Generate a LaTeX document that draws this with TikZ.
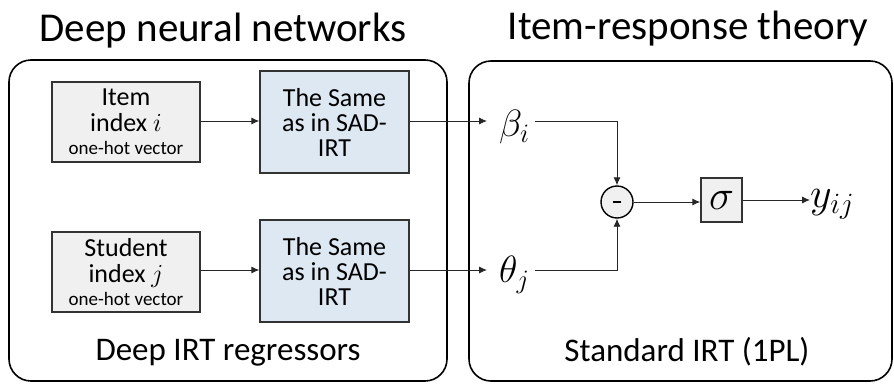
\RequirePackage{fix-cm}
\documentclass[tikz,border=0pt]{standalone}
\usepackage{fontspec}
\setmainfont{Carlito}
\usetikzlibrary{arrows.meta}
\definecolor{boxgray}{HTML}{F0F0F0}
\definecolor{boxblue}{HTML}{DDE8F3}
\tikzset{
  panel/.style={draw=black, line width=1.6pt, rounded corners=22pt},
  inbox/.style={draw=black!80, line width=1.4pt, fill=boxgray, align=center, inner sep=0pt,
    font=\fontsize{26}{26}\selectfont},
  netbox/.style={draw=black!80, line width=1.4pt, fill=boxblue, align=center, inner sep=0pt,
    font=\fontsize{26}{25}\selectfont},
  flow/.style={draw=black!85, line width=0.9pt, -{Latex[length=8pt,width=7pt]}},
  title/.style={font=\fontsize{41}{44}\selectfont},
  caption/.style={font=\fontsize{33}{36}\selectfont},
  sym/.style={inner sep=1pt, font=\fontsize{38}{40}\selectfont},
}
\begin{document}
\begin{tikzpicture}[x=1pt,y=-1pt]
\useasboundingbox (0,0) rectangle (894,383);

% panels
\draw[panel] (9,60) rectangle (447,381);
\draw[panel] (469,61) rectangle (892,381);

% panel titles and captions
\node[title] (tdnn) at (223,31) {Deep neural networks};
\node[title] (tirt) at (688,29) {Item-response theory};
\node[caption] (cdnn) at (228,353) {Deep IRT regressors};
\node[caption] (cirt) at (687,352) {Standard IRT (1PL)};

% input boxes
\node[inbox, minimum width=148pt, minimum height=80pt] (item) at (126,122)
  {Item\\index $i$\\[-3pt]{\fontsize{19}{20}\selectfont one-hot vector}};
\node[inbox, minimum width=148pt, minimum height=80pt] (stud) at (126,272)
  {Student\\index $j$\\[-3pt]{\fontsize{19}{20}\selectfont one-hot vector}};

% network boxes
\node[netbox, minimum width=149pt, minimum height=102pt] (net1) at (334.5,122)
  {The Same\\as in SAD-\\IRT};
\node[netbox, minimum width=149pt, minimum height=102pt] (net2) at (334.5,271)
  {The Same\\as in SAD-\\IRT};

% IRT parameters
\node[sym, anchor=west] (beta) at (498,127) {$\beta_i$};
\node[sym, anchor=west] (theta) at (498,275) {$\theta_j$};

% difference and link function
\node[circle, draw=black, line width=1.4pt, fill=boxgray, minimum size=32pt, inner sep=0pt] (diff) at (617,202)
  {\rule[-2pt]{8pt}{2.5pt}};
\node[draw=black!80, line width=1.4pt, fill=boxgray, minimum width=41pt, minimum height=44pt, inner sep=0pt,
  font=\fontsize{42}{44}\selectfont] (sig) at (721.5,200) {$\sigma$};
\node[sym, anchor=west, inner sep=0pt, font=\fontsize{42}{44}\selectfont] (yij) at (810,204) {$y_{ij}$};

% connectors
\draw[flow] (item.east |- 0,121) -- (net1.west |- 0,121);
\draw[flow] (stud.east |- 0,270) -- (net2.west |- 0,270);
\draw[flow] (net1.east |- 0,121) -- (487,121) coordinate (ba);
\draw[flow] (net2.east |- 0,270) -- (487,270) coordinate (ta);
\coordinate (bk) at (617,121);
\coordinate (tk) at (617,270);
\draw[flow] (535,121) -- (bk) -- (diff.north);
\draw[flow] (535,270) -- (tk) -- (diff.south);
\draw[flow] (diff.east) -- (sig.west |- diff.east);
\draw[flow] (sig.east |- 0,200) -- (yij.west |- 0,200);
\end{tikzpicture}
\end{document}
